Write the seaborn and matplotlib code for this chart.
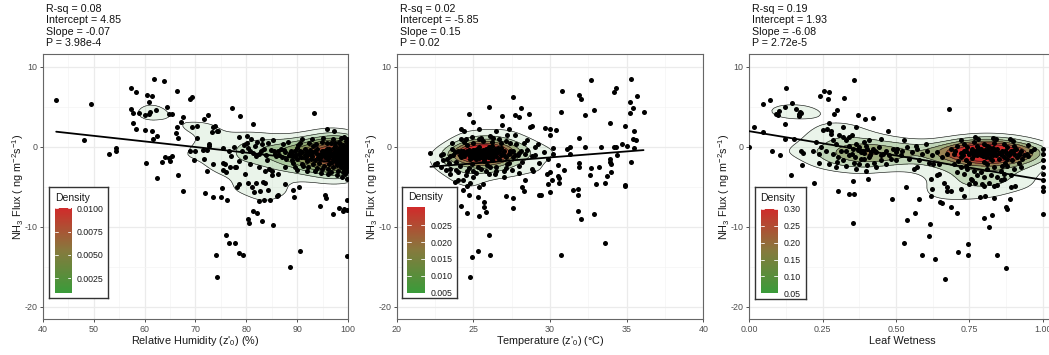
import matplotlib
matplotlib.use("Agg")
import matplotlib.pyplot as plt
import seaborn as sns
import numpy as np
import pandas as pd
from matplotlib.colors import LinearSegmentedColormap

# ---- data (dense cores include estimated overlapping points) ----
rh_points = [
    (42.6, 5.8), (48.0, 0.8), (49.5, 5.3), (53.0, -0.9), (54.3, -0.2), (54.3, -0.5),
    (57.3, 7.3), (58.3, 6.8), (60.4, 6.4), (61.4, 6.3), (60.9, 5.6), (61.8, 8.5), (63.8, 8.2),
    (66.4, 7.0), (68.9, 6.0), (69.3, 6.2), (57.4, 4.7), (57.8, 4.2), (58.8, 4.2), (60.0, 4.0),
    (60.9, 4.1), (61.1, 4.3), (62.2, 4.6), (64.4, 5.0), (64.8, 4.1), (65.3, 4.1), (67.5, 3.7),
    (57.8, 2.9), (58.3, 2.2), (60.1, 2.1), (61.4, 1.9), (62.4, 1.3), (61.6, 1.0), (67.1, 3.1),
    (66.4, 2.4), (66.2, 1.7), (66.5, 1.1), (69.3, 2.5), (70.2, 2.6), (70.3, 1.1),
    (60.3, -2.0), (63.4, -1.9), (64.0, -1.3), (64.8, -1.4), (64.9, -1.8), (65.3, -1.2),
    (62.5, -3.9), (66.6, -3.5), (67.5, -5.5), (68.9, -0.5), (69.9, -0.5), (69.8, -1.7),
    (71.7, 3.5), (72.5, 4.0), (73.5, 2.4), (73.9, 2.6), (74.2, 2.0), (73.3, 1.8), (74.5, 1.9),
    (72.7, 0.3), (72.7, 0.1), (77.1, 4.8), (78.8, 3.8), (81.4, 2.8), (93.3, 4.2), (95.9, 2.2),
    (97.2, 1.9), (71.5, -0.4), (72.2, -0.4), (71.6, -1.5), (73.4, -2.2), (75.4, -2.0),
    (75.8, -2.2), (75.4, -2.9), (76.0, -3.2), (72.3, -3.1), (71.9, -5.8), (73.4, -6.3),
    (75.0, -6.3), (76.2, -6.7), (75.3, -5.2), (77.0, -1.2), (77.8, -2.6), (79.8, -3.4),
    (78.1, -5.0), (78.6, -4.7), (80.4, -4.6), (81.1, -5.0), (81.9, -4.6), (83.2, -4.4),
    (83.6, -4.5), (82.6, -5.5), (81.6, -5.7), (84.3, -5.4), (82.5, -6.8), (83.4, -6.7),
    (84.7, -6.7), (86.2, -6.1), (86.0, -6.2), (87.6, -4.7), (89.1, -5.4), (90.4, -5.1),
    (89.4, -6.3), (81.4, -8.1), (82.1, -8.3), (80.4, -9.0), (80.6, -9.5), (83.0, -9.3),
    (85.2, -9.8), (76.0, -11.1), (76.5, -12.1), (77.8, -12.0), (78.6, -13.3), (79.4, -13.5),
    (74.0, -13.5), (74.2, -16.3), (90.6, -13.0), (88.5, -15.0), (99.8, -13.7), (94.4, -7.4),
    (95.4, -6.1), (95.6, -6.4), (97.1, -8.4), (98.2, -7.7), (99.0, -8.0), (99.2, -7.8),
    (99.8, -7.9), (99.8, -6.7),
    (80.4, -0.2), (80.7, -0.5), (81.7, 0.1), (82.4, -0.9), (83.0, 0.3), (83.4, -0.3),
    (84.0, -1.7), (84.4, -2.8), (85.0, -3.0), (85.7, -0.9), (86.3, -0.5), (87.0, -1.3),
    (87.6, -0.7), (88.3, -1.1), (88.9, -1.7), (89.6, -0.5), (90.3, -0.9), (90.9, -2.2),
    (91.6, -0.3), (92.2, -0.9), (92.9, -0.7), (93.5, -1.7), (94.2, -1.1), (94.8, -0.5),
    (95.5, -1.3), (96.1, -0.9), (96.8, -1.9), (97.5, -0.7), (98.1, -1.3), (98.8, -1.7),
    (99.4, -0.9), (99.8, -2.2), (99.7, -0.3), (99.1, -3.2), (97.8, -3.6), (96.1, -3.4),
    (94.8, -2.8), (93.5, -3.0), (92.2, -2.6), (89.6, -2.6), (87.6, -2.6), (86.3, -3.4),
    (85.0, -3.6), (83.7, -3.0), (82.4, -2.6), (80.7, -2.2), (79.8, -1.3), (79.1, -0.5),
    (78.0, -2.6), (80.1, 0.5), (83.0, 0.9), (85.3, 0.8), (97.5, 0.1), (98.4, 0.3), (99.8, 0.5),
    (96.1, -0.7), (96.8, -0.9), (97.5, -1.1), (98.1, -0.5), (98.8, -0.9), (99.4, -1.3),
    (99.8, -1.1), (99.2, -0.5), (97.1, -1.5), (95.8, -0.3), (95.2, -0.9), (98.4, -2.2),
    (99.8, -1.6), (78.6, 1.2), (80.2, 1.3), (81.0, 1.0), (79.5, 0.2), (81.3, -0.8),
    (82.0, 0.6), (77.5, 0.0), (76.5, -0.6), (75.5, -0.2), (78.5, -1.8), (76.8, -2.5),
    (99.9, -0.6), (99.9, -1.2), (99.9, -1.8), (99.9, -2.6), (99.9, -3.0), (99.9, 0.1),
    (99.6, -1.4), (99.5, -0.2), (99.0, -1.1), (98.6, -0.3), (99.3, -2.5), (99.9, -4.0),
    (85.5, -0.6), (86.5, -1.0), (87.5, -0.4), (88.5, -0.8), (89.5, -1.2), (90.5, -0.6),
    (91.5, -1.0), (92.5, -0.4), (93.0, -1.2), (93.8, -0.8), (94.5, -1.4), (95.0, -0.6),
    (95.5, -1.0), (96.0, -1.5), (96.5, -0.4), (97.0, -0.8), (97.3, -1.2), (97.8, -0.5),
    (98.0, -0.9), (98.3, -1.4), (98.6, -0.7), (98.9, -1.1), (99.1, -0.4), (99.3, -0.8),
    (99.5, -1.2), (99.7, -0.6), (99.9, -0.9), (99.9, -1.5), (99.6, -1.9), (98.5, -1.8),
    (97.6, -1.7), (96.4, -1.2), (95.7, -0.7), (94.9, -1.1), (94.0, -0.3), (92.8, -1.5),
    (91.9, -0.7), (90.8, -1.3), (89.9, -0.2), (88.9, -0.9), (87.9, -1.5), (86.9, -0.3),
    (85.9, -1.2), (84.9, -0.4), (83.9, -1.0), (82.9, -0.6), (81.9, -1.2), (99.8, -0.3),
    (99.4, -1.6), (98.2, -0.2), (97.2, -0.2), (96.2, -0.3), (93.2, 0.1), (90.1, 0.2),
    (87.2, 0.3), (84.2, 0.4),
    (97.0, -1.0), (97.4, -0.6), (97.7, -1.3), (98.0, -0.7), (98.3, -1.0), (98.5, -0.5),
    (98.7, -1.2), (99.0, -0.8), (99.2, -1.4), (99.4, -0.6), (99.6, -1.0), (99.8, -0.8),
    (99.9, -1.3), (99.9, -0.4), (99.7, -1.7), (99.5, -2.0), (99.1, -1.8), (98.4, -1.6),
    (96.6, -1.1), (96.3, -0.6), (95.9, -1.2), (95.4, -0.5), (94.7, -0.9), (94.1, -1.3),
    (93.6, -0.6), (92.7, -1.0), (91.8, -1.3), (90.9, -0.7), (89.8, -1.0), (88.7, -0.5),
    (99.95, -0.2), (99.95, -2.3), (99.3, -0.2), (98.8, -2.0), (97.9, -2.1),
    (88.2, 0.6), (89.1, -2.0), (90.0, -1.6), (90.6, 0.4), (91.2, -2.4), (91.9, -1.8),
    (92.4, 0.5), (93.1, -2.2), (93.7, 0.3), (94.3, -2.0), (94.8, 0.6), (95.3, -2.4),
    (95.8, 0.4), (96.3, -2.2), (96.7, 0.5), (97.1, -2.6), (97.5, 0.4), (97.9, -2.3),
    (98.3, 0.6), (98.7, -2.6), (99.0, 0.2), (99.3, -2.9), (99.6, 0.7), (99.9, -2.0),
    (99.9, 0.9), (98.0, -3.0), (96.0, -2.8), (94.0, -2.7), (92.0, -3.1), (90.0, -2.9),
    (97.0, 1.0), (95.0, 1.1), (93.0, 0.9), (91.0, 1.0), (99.2, 1.2), (98.6, 1.1),
    (96.6, -3.2), (94.6, -3.3), (99.5, -3.4), (98.9, -3.8),
]

temp_points = [
    (27.6, 6.2), (26.0, 5.0), (28.1, 4.8), (27.7, 4.0), (28.0, 3.7), (28.6, 4.1), (26.9, 3.8),
    (24.7, 4.1), (25.0, 3.1), (26.9, 2.7), (27.3, 2.2), (26.5, 1.9), (28.7, 2.5), (28.8, 2.6),
    (24.2, 2.2), (24.4, 1.9), (25.4, 2.2), (27.2, 1.4), (27.7, 1.5), (29.7, 2.3), (30.0, 1.5),
    (22.2, -0.8), (24.7, -6.1), (24.2, -7.4), (24.6, -8.3), (25.3, -6.3), (25.7, -6.9),
    (25.4, -8.7), (25.8, -8.2), (25.7, -7.5), (27.1, -6.2), (27.6, -6.4), (27.6, -7.7),
    (26.0, -11.1), (25.3, -13.1), (24.9, -13.8), (26.1, -13.5), (24.8, -16.3), (24.3, -5.4),
    (28.2, -5.0), (28.3, -5.5), (28.4, -4.2), (28.9, -3.0), (28.8, -2.8), (29.3, -6.1),
    (29.4, -6.1), (29.9, -4.7), (30.0, -5.7), (29.8, -3.4),
    (32.7, 8.3), (35.3, 8.5), (30.8, 7.0), (31.9, 6.4), (32.0, 6.0), (34.3, 7.3), (34.2, 6.8),
    (35.7, 6.3), (35.2, 5.6), (35.4, 4.8), (35.2, 4.2), (36.1, 4.3), (30.7, 4.3), (32.3, 4.0),
    (32.9, 4.6), (33.9, 2.9), (34.9, 2.6), (35.5, 2.0), (35.4, 1.0), (35.6, 0.8), (31.9, 1.1),
    (30.0, 2.2), (30.4, 2.1), (31.3, 0.0), (31.1, -0.3), (31.3, -0.9), (32.3, -0.1),
    (33.3, 0.0), (34.2, -0.1), (34.3, 0.0), (34.7, 0.3), (35.0, 0.1), (35.5, -0.2),
    (31.9, -2.0), (31.9, -2.6), (32.7, -2.7), (33.2, -2.5), (33.9, -1.5), (33.9, -1.9),
    (34.0, -2.2), (34.0, -3.2), (33.7, -3.7), (32.6, -3.6), (33.0, -4.7), (33.6, -4.6),
    (34.4, -1.0), (35.3, -1.9), (34.9, -4.8), (34.9, -4.9), (31.5, -5.4), (31.8, -5.3),
    (31.8, -6.1), (31.8, -8.1), (32.0, -9.1), (32.9, -8.4), (33.6, -12.0), (30.7, -13.5),
    (30.9, -2.9), (30.0, -3.2), (30.6, -3.9), (30.6, -4.5), (30.1, -4.2), (30.5, -3.7),
    (30.2, -0.9),
    (23.0, -0.9), (23.3, -1.5), (23.6, -0.3), (23.9, -1.9), (24.2, -0.5), (24.4, -1.2),
    (24.6, 0.2), (24.8, -0.9), (24.9, -2.2), (25.1, -0.4), (25.2, -1.0), (25.3, -0.7),
    (25.4, -1.4), (25.5, -0.5), (25.6, -0.9), (25.7, -1.8), (25.8, -0.3), (25.9, -1.1),
    (26.0, -0.6), (26.1, -2.5), (26.2, 0.1), (26.3, -1.3), (26.5, -0.8), (26.7, -1.6),
    (26.8, -0.2), (27.0, -1.0), (27.2, -2.2), (27.4, -0.5), (27.6, -1.3), (27.8, 0.3),
    (28.0, -0.8), (28.2, -1.9), (28.5, -0.4), (28.8, -1.2), (29.0, 0.0), (29.3, -2.0),
    (29.6, -0.7), (29.9, -1.5), (30.2, -0.2), (30.5, -2.3),
    (24.0, -3.2), (24.5, -3.6), (25.0, -3.0), (25.5, -2.8), (26.0, -3.4), (26.5, -3.1),
    (27.0, -3.8), (27.5, -2.9), (28.0, -3.3), (22.6, -2.1), (22.9, -2.6), (23.5, -2.8),
    (24.3, -4.2), (24.8, -4.6), (23.8, -4.4),
    (25.3, -0.8), (25.4, -0.6), (25.6, -0.7), (25.5, -1.1), (25.2, -0.5), (25.7, -0.5),
    (25.9, -0.9), (26.1, -0.4), (24.9, -0.7), (25.0, -1.3), (26.4, -0.5), (24.7, -0.4),
    (24.5, 0.9), (25.4, 0.9), (26.3, 1.1), (27.1, 0.7), (28.3, 0.5), (29.2, 0.3),
    (22.5, -2.2), (23.0, -1.7), (23.2, -2.9), (23.5, -3.4), (24.0, -4.2), (24.6, -4.9),
    (25.0, -3.8), (25.4, -5.1), (25.6, -4.7),
    (24.5, -0.8), (24.7, -1.1), (24.9, -0.5), (25.0, -0.9), (25.1, -1.2), (25.2, -0.7),
    (25.3, -1.0), (25.4, -0.4), (25.5, -0.8), (25.6, -1.2), (25.7, -0.6), (25.8, -1.0),
    (25.9, -0.4), (26.0, -0.9), (26.1, -1.3), (26.2, -0.6), (26.3, -1.0), (26.4, -0.3),
    (26.6, -0.7), (26.8, -1.1), (27.0, -0.5), (27.3, -0.9), (27.6, -0.6), (24.3, -0.6),
    (24.1, -1.0), (23.8, -0.7), (25.2, -1.5), (25.7, -1.5), (26.2, -1.7), (24.8, -1.6),
    (25.4, 0.0), (26.0, 0.0), (26.6, -0.2), (23.5, -1.2), (27.9, -1.0), (28.4, -0.9),
    (25.05, -0.6), (25.55, -0.55), (25.85, -0.75), (25.35, -0.85),
    (24.6, -0.6), (24.8, -1.2), (25.0, -0.4), (25.1, -0.8), (25.2, -1.3), (25.3, -0.5),
    (25.4, -0.9), (25.5, -1.3), (25.6, -0.4), (25.7, -0.8), (25.8, -1.2), (25.9, -0.6),
    (26.0, -1.0), (26.1, -0.7), (26.2, -1.1), (26.3, -0.5), (26.4, -0.9), (26.5, -1.2),
    (26.7, -0.6), (26.9, -0.9), (24.4, -0.9), (24.2, -1.3), (24.0, -0.6), (23.7, -1.0),
    (27.1, -1.3), (27.4, -0.8), (27.7, -1.0), (28.1, -0.6), (25.15, -1.0), (25.45, -0.7),
    (25.75, -1.0), (25.25, -0.3), (25.65, -1.0), (25.95, -1.3), (26.25, -0.8), (24.95, -1.0),
    (25.35, -1.2), (25.85, -0.5), (26.15, -1.4), (24.75, -0.8),
    (23.6, 0.4), (24.1, -2.4), (24.4, 0.6), (24.7, -2.7), (25.0, 0.5), (25.3, -2.5),
    (25.6, 0.7), (25.9, -2.3), (26.2, 0.6), (26.5, -2.6), (26.8, 0.4), (27.1, -2.7),
    (27.4, 0.5), (23.9, -2.9), (24.6, -3.1), (25.2, -3.3), (25.8, -3.0), (26.4, -3.4),
    (27.0, -3.1), (24.2, 1.0), (24.9, 1.2), (25.5, 1.1), (26.1, 1.3), (26.7, 1.0),
    (27.3, -2.0), (23.4, -2.0), (28.0, -2.4), (28.5, 0.8), (22.9, -1.0), (29.0, -1.0),
]

lw_points = [
    (0.0, -0.1), (0.016, 2.5), (0.048, 5.3), (0.072, 5.8), (0.047, 1.8), (0.125, 7.3),
    (0.144, 5.5), (0.123, 4.9), (0.102, 4.4), (0.091, 4.1), (0.099, 4.0), (0.159, 4.7),
    (0.173, 4.3), (0.170, 4.1), (0.177, 4.2), (0.168, 3.8), (0.122, 2.8), (0.123, 0.9),
    (0.153, 0.9), (0.078, -0.5), (0.105, -1.0), (0.176, -0.6), (0.183, -0.8), (0.178, -2.3),
    (0.216, -0.6), (0.141, -3.6), (0.219, -4.5), (0.239, -2.0), (0.255, 7.0), (0.270, 6.8),
    (0.240, 6.3), (0.268, 5.9), (0.323, 6.1), (0.357, 8.3), (0.300, 4.6), (0.290, 4.1),
    (0.270, 3.0), (0.265, 2.2), (0.251, 2.1), (0.277, 1.9), (0.280, 1.6), (0.369, 4.0),
    (0.393, 3.4), (0.420, 3.6), (0.320, 2.5), (0.364, 2.5), (0.302, -5.6), (0.341, -5.9),
    (0.356, -5.9), (0.352, -9.5), (0.486, -6.5), (0.355, -4.3), (0.406, -4.1), (0.473, 1.9),
    (0.681, 4.7), (0.533, -5.0), (0.539, -9.2), (0.565, -8.3), (0.616, -9.7), (0.614, -11.2),
    (0.527, -12.1), (0.590, -13.6), (0.632, -14.0), (0.666, -16.5), (0.711, -13.2),
    (0.745, -12.2), (0.745, -13.5), (0.843, -13.6), (0.874, -15.2), (0.800, -8.9),
    (0.826, -8.6), (0.816, -10.0), (0.876, -7.6), (0.877, -7.8), (0.888, -6.5),
    (1.0, -8.4), (1.0, -5.1), (1.0, -4.2), (1.0, -3.4), (1.0, -2.6), (1.0, -1.7), (1.0, -0.9),
    (1.0, -0.3), (1.0, -5.5),
    (0.580, -6.5), (0.618, -6.2), (0.623, -5.3), (0.650, -6.9), (0.658, -7.0), (0.686, -7.6),
    (0.707, -8.3), (0.689, -5.5), (0.720, -5.3), (0.733, -6.2), (0.785, -6.3), (0.805, -6.2),
    (0.834, -6.4), (0.891, -5.1), (0.906, -4.9), (0.675, -5.1), (0.673, -5.5), (0.749, -4.7),
    (0.760, -4.2), (0.769, -4.5), (0.794, -4.7), (0.800, -4.9), (0.817, -4.5), (0.834, -4.9),
    (0.845, -4.8), (0.857, -4.2), (0.868, -4.0), (0.561, -2.8), (0.573, -2.6), (0.618, -4.0),
    (0.641, -3.6), (0.647, -3.4), (0.627, -2.2), (0.664, -4.5),
    (0.284, 0.8), (0.295, 0.3), (0.307, 1.4), (0.318, 1.2), (0.330, 0.8), (0.341, 0.1),
    (0.352, -0.3), (0.364, 0.3), (0.375, -0.1), (0.386, -0.5), (0.398, 0.1), (0.409, 0.8),
    (0.420, -0.3), (0.432, -0.7), (0.443, -0.1), (0.455, -0.9), (0.466, -0.5), (0.477, -1.1),
    (0.489, -0.3), (0.500, -0.7), (0.284, -0.9), (0.301, -1.3), (0.318, -1.7), (0.341, -1.1),
    (0.358, -2.0), (0.375, -2.2), (0.392, -1.5), (0.409, -1.3), (0.426, -2.0), (0.449, -1.7),
    (0.466, -2.2), (0.483, -1.5), (0.500, -1.7), (0.261, -0.5), (0.244, -0.1), (0.239, -0.9),
    (0.273, -2.2), (0.295, -2.6), (0.330, -2.4), (0.364, -2.8), (0.398, -3.0), (0.432, -2.6),
    (0.227, 0.6), (0.313, -0.5), (0.381, -0.7), (0.415, -0.7), (0.392, 0.6), (0.341, 1.2),
    (0.505, -0.3), (0.522, -0.5), (0.539, -0.1), (0.556, -0.7), (0.573, -0.3), (0.590, -0.9),
    (0.607, -0.5), (0.624, -1.1), (0.641, -0.7), (0.658, -1.3), (0.675, -0.9), (0.516, -1.1),
    (0.544, -1.5), (0.578, -1.7), (0.613, -2.0), (0.647, -2.2), (0.527, 0.8), (0.567, 0.1),
    (0.601, 0.3),
    (0.686, -0.3), (0.698, -0.9), (0.709, 0.1), (0.720, -1.3), (0.732, -0.5), (0.737, -1.7),
    (0.743, -0.1), (0.749, -0.9), (0.755, -0.7), (0.760, -0.3), (0.766, -0.9), (0.772, -0.5),
    (0.777, -1.1), (0.783, -0.7), (0.789, -0.3), (0.794, -0.9), (0.800, -0.5), (0.806, -1.3),
    (0.811, -0.7), (0.817, -0.1), (0.823, -0.9), (0.828, -1.7), (0.834, -0.5), (0.840, -1.1),
    (0.845, -0.3), (0.851, -1.5), (0.857, -0.9), (0.862, -0.5), (0.868, -1.3), (0.874, -0.7),
    (0.879, -0.1), (0.885, -1.1), (0.891, -0.5), (0.897, -1.7), (0.902, -0.9), (0.908, -0.3),
    (0.914, -1.3), (0.919, -0.9), (0.925, -0.5), (0.931, -1.5), (0.936, -1.1), (0.948, -0.9),
    (0.959, -0.5), (0.970, -0.3),
    (0.698, -2.2), (0.720, -2.6), (0.743, -2.8), (0.766, -3.0), (0.789, -3.2), (0.811, -2.8),
    (0.834, -2.6), (0.857, -3.0), (0.879, -2.4), (0.902, -2.8), (0.925, -2.6), (0.755, -4.0),
    (0.777, -3.6), (0.800, -3.8), (0.823, -3.6), (0.845, -3.8), (0.732, -3.4), (0.709, -3.2),
    (0.868, -3.4), (0.891, -3.6),
    (0.732, 0.3), (0.766, 0.6), (0.800, 0.3), (0.834, 0.4), (0.868, 0.3), (0.902, 0.1),
    (0.777, 0.1), (0.811, 0.1),
    (0.777, -0.7), (0.789, -0.6), (0.794, -0.5), (0.802, -0.7), (0.809, -0.6), (0.783, -0.9),
    (0.798, -1.0), (0.772, -0.8), (0.811, -0.9), (0.789, -1.1),
    (0.740, -0.6), (0.750, -0.9), (0.760, -0.5), (0.765, -1.1), (0.770, -0.7), (0.775, -0.4),
    (0.780, -0.9), (0.785, -0.6), (0.790, -0.8), (0.795, -1.2), (0.800, -0.7), (0.805, -0.4),
    (0.810, -1.0), (0.815, -0.6), (0.820, -0.8), (0.825, -0.5), (0.830, -1.0), (0.835, -0.7),
    (0.840, -0.4), (0.850, -0.8), (0.860, -1.1), (0.870, -0.6), (0.880, -0.9), (0.890, -0.8),
    (0.900, -0.6), (0.720, -0.8), (0.730, -1.0), (0.700, -0.6), (0.760, -1.4), (0.820, -1.4),
    (0.880, -1.5), (0.780, -0.2), (0.830, -0.2), (0.920, -1.0), (0.950, -1.2),
    (0.330, -0.6), (0.350, -0.9), (0.370, -0.4), (0.390, -0.8), (0.410, -1.0), (0.430, -0.5),
    (0.360, -1.3), (0.400, -0.3), (0.450, -1.1), (0.380, -1.6),
    (0.720, 0.8), (0.750, -2.0), (0.780, 1.0), (0.810, -2.2), (0.840, 0.9), (0.870, -2.1),
    (0.900, 0.7), (0.740, -2.4), (0.770, 1.2), (0.800, -1.9), (0.830, 1.1), (0.860, -2.4),
    (0.890, 1.0), (0.920, -2.0), (0.710, -1.8), (0.950, 0.2), (0.350, 1.5), (0.400, -2.3),
    (0.450, 0.9), (0.300, -1.9),
]

# fitted line coefficients as printed on the chart
intercepts = [4.85, -5.85, 1.93]
slopes = [-0.07, 0.15, -6.08]
stats_lines = [
    ["R-sq = 0.08", "Intercept = 4.85", "Slope = -0.07", "P = 3.98e-4"],
    ["R-sq = 0.02", "Intercept = -5.85", "Slope = 0.15", "P = 0.02"],
    ["R-sq = 0.19", "Intercept = 1.93", "Slope = -6.08", "P = 2.72e-5"],
]
x_titles = ["Relative Humidity (z'$_0$) (%)", "Temperature (z'$_0$) (°C)", "Leaf Wetness"]
y_title = "NH$_3$ Flux ( ng m$^{-2}$s$^{-1}$)"
x_major = [[40, 50, 60, 70, 80, 90, 100], [20, 25, 30, 35, 40], [0, 0.25, 0.5, 0.75, 1.0]]
x_minor = [[45, 55, 65, 75, 85, 95], [22.5, 27.5, 32.5, 37.5], [0.125, 0.375, 0.625, 0.875]]
x_ticklabels = [["40", "50", "60", "70", "80", "90", "100"],
                ["20", "25", "30", "35", "40"],
                ["0.00", "0.25", "0.50", "0.75", "1.00"]]
x_limits = [(40, 100), (20, 40), (0, 1.043)]
y_major = [-20, -10, 0, 10]
y_minor = [-15, -5, 5]
density_levels = [
    [0.001, 0.002, 0.003, 0.004, 0.005, 0.006, 0.007, 0.008, 0.009, 0.010],
    [0.005, 0.010, 0.015, 0.020, 0.025, 0.030],
    [0.05, 0.10, 0.15, 0.20, 0.25, 0.30],
]
density_ticks = [[0.0025, 0.0050, 0.0075, 0.0100],
                 [0.005, 0.010, 0.015, 0.020, 0.025],
                 [0.05, 0.10, 0.15, 0.20, 0.25, 0.30]]
density_ticklabels = [["0.0025", "0.0050", "0.0075", "0.0100"],
                      ["0.005", "0.010", "0.015", "0.020", "0.025"],
                      ["0.05", "0.10", "0.15", "0.20", "0.25", "0.30"]]
density_range = [(0.00096, 0.0100), (0.005, 0.0303), (0.05, 0.30)]

# ---- style ----
sns.set_theme(style="ticks")
plt.rcParams["font.family"] = ["Liberation Sans", "DejaVu Sans"]
plt.rcParams["mathtext.default"] = "regular"
plt.rcParams["axes.unicode_minus"] = False

W, H = 1049, 355
fig = plt.figure(figsize=(W / 100, H / 100), dpi=100)


def px_axes(left, top, right, bottom):
    return fig.add_axes([left / W, 1 - bottom / H, (right - left) / W, (bottom - top) / H])


def kde2d(x, y, n=100, adjust_x=1.0, adjust_y=1.0):
    # gaussian product kernel, normal-reference bandwidth per axis, grid over the data range
    def bw(v):
        q75, q25 = np.percentile(v, [75, 25])
        return 1.06 * min(np.std(v, ddof=1), (q75 - q25) / 1.34) * len(v) ** (-0.2)
    hx, hy = bw(x) * adjust_x, bw(y) * adjust_y
    gx = np.linspace(x.min(), x.max(), n)
    gy = np.linspace(y.min(), y.max(), n)
    kx = np.exp(-0.5 * ((gx[:, None] - x[None, :]) / hx) ** 2) / (hx * np.sqrt(2 * np.pi))
    ky = np.exp(-0.5 * ((gy[:, None] - y[None, :]) / hy) ** 2) / (hy * np.sqrt(2 * np.pi))
    z = ky @ kx.T / len(x)
    return gx, gy, z


legend_cmap = LinearSegmentedColormap.from_list("leg", ["#3a9c3a", "#877a3e", "#d12b2b"])

panel_px = [(43, 348), (396.7, 703.3), (749.3, 1055.3)]
top_px, bottom_px = 54.3, 319.3
bw_x_adjust = [0.8, 1.0, 1.0]
bw_y_adjust = [1.7, 1.35, 1.45]
legend_box = [(49.3, 187.3, 108.3, 298.0), (402.3, 186.7, 456.7, 298.3), (755.0, 187.3, 806.0, 299.3)]
legend_bar = [(54.5, 208.3, 71.0, 292.7), (407.3, 207.3, 425.0, 292.7), (761.0, 209.0, 777.7, 293.3)]

for i, pts in enumerate([rh_points, temp_points, lw_points]):
    df = pd.DataFrame(pts, columns=["driver", "flux"])
    l, r = panel_px[i]
    ax = px_axes(l, top_px, r, bottom_px)

    # stacked density polygons, colour and alpha mapped to the level
    gx, gy, z = kde2d(df["driver"].to_numpy(), df["flux"].to_numpy(),
                      adjust_x=bw_x_adjust[i], adjust_y=bw_y_adjust[i])
    levs = density_levels[i]
    lo, hi = levs[0], levs[-1]
    for lv in levs:
        if lv >= z.max():
            break
        t = (lv - lo) / (hi - lo)
        ax.contourf(gx, gy, z, levels=[lv, z.max() * 1.01], colors=[legend_cmap(t)],
                    alpha=0.1 + 0.9 * t, zorder=1)
    ax.contour(gx, gy, z, levels=[lv for lv in levs if lv < z.max()], colors="#1a1a1a",
               linewidths=0.45, zorder=2)

    sns.scatterplot(data=df, x="driver", y="flux", color="black", s=13, linewidth=0,
                    ax=ax, zorder=3)
    line_x = np.array([df["driver"].min(), df["driver"].max()])
    sns.lineplot(x=line_x, y=intercepts[i] + slopes[i] * line_x, color="black", lw=1.3,
                 ax=ax, zorder=4)

    ax.set_xlim(*x_limits[i])
    ax.set_ylim(-21.6, 11.55)
    ax.set_xticks(x_major[i])
    ax.set_xticklabels(x_ticklabels[i])
    ax.set_xticks(x_minor[i], minor=True)
    ax.set_yticks(y_major)
    ax.set_yticks(y_minor, minor=True)
    ax.grid(which="major", color="#ebebeb", lw=0.9)
    ax.grid(which="minor", color="#f4f4f4", lw=0.5)
    ax.set_axisbelow(True)

    for sp in ax.spines.values():
        sp.set_visible(True)
        sp.set_color("#666666")
        sp.set_linewidth(0.8)
    ax.tick_params(which="major", direction="out", length=2.5, width=0.6, color="#333333",
                   labelsize=6.4, labelcolor="#4d4d4d", pad=1.5)
    ax.tick_params(which="minor", length=0)
    ax.set_xlabel(x_titles[i], fontsize=7.8, color="#1a1a1a")
    ax.set_ylabel(y_title, fontsize=7.8, color="#1a1a1a")
    ax.xaxis.label.set_va("center")
    ax.yaxis.label.set_va("center")
    ax.xaxis.set_label_coords(0.5, -21.4 / (bottom_px - top_px))
    ax.yaxis.set_label_coords(-25 / (r - l), 0.5)

    fig.text((l + 3) / W, 1 - 3.5 / H, "\n".join(stats_lines[i]), ha="left", va="top",
             fontsize=7.7, color="#111111", linespacing=1.2)

    # density legend
    bl, bt, br, bb = legend_box[i]
    box = px_axes(bl, bt, br, bb)
    box.set_xticks([])
    box.set_yticks([])
    box.set_facecolor("white")
    for sp in box.spines.values():
        sp.set_visible(True)
        sp.set_color("#333333")
        sp.set_linewidth(1.0)
    box.text(0.105, 1 - 10.5 / (bb - bt), "Density", transform=box.transAxes, ha="left",
             va="center", fontsize=7.5, color="#1a1a1a")

    cl, ct, cr, cb = legend_bar[i]
    cax = px_axes(cl, ct, cr, cb)
    dlo, dhi = density_range[i]
    cax.imshow(np.linspace(0, 1, 256)[:, None], aspect="auto", cmap=legend_cmap,
               origin="lower", extent=[0, 1, dlo, dhi])
    cax.set_xlim(0, 1)
    cax.set_ylim(dlo, dhi)
    for t in density_ticks[i]:
        cax.plot([0, 0.2], [t, t], color="white", lw=0.6)
        cax.plot([0.8, 1], [t, t], color="white", lw=0.6)
    cax.set_xticks([])
    cax.yaxis.tick_right()
    cax.set_yticks(density_ticks[i])
    cax.set_yticklabels(density_ticklabels[i])
    cax.tick_params(axis="y", length=0, pad=4, labelsize=6.3, labelcolor="#1a1a1a")
    for sp in cax.spines.values():
        sp.set_visible(False)

fig.savefig("out.png", dpi=100)
